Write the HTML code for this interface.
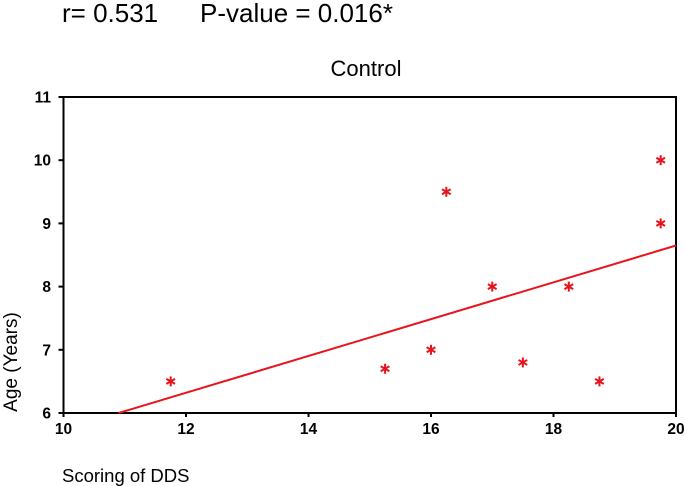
<!DOCTYPE html>
<html><head><meta charset="utf-8"><style>
html,body{margin:0;padding:0;background:#fff;}
svg{display:block;font-family:"Liberation Sans",Arial,sans-serif;}
</style></head><body>
<svg id="chart" width="685" height="486">
<text x="62" y="22" font-size="26">r= 0.531</text>
<text x="200" y="22" font-size="26">P-value = 0.016*</text>
<text x="366" y="76" font-size="22" text-anchor="middle">Control</text>
<text x="62" y="482" font-size="18.5">Scoring of DDS</text>
<text transform="translate(17,362) rotate(-90)" font-size="19" text-anchor="middle">Age (Years)</text>
<g id="axes"></g><g id="marks"></g>
</svg>
<script>
const xTicks=[10,12,14,16,18,20];
const yTicks=[6,7,8,9,10,11];
const xVals=[11.75,15.25,16,16.25,17,17.5,18.25,18.75,19.75,19.75];
const yVals=[6.5,6.7,7,9.5,8,6.8,8,6.5,10,9];
const fitX=[10.9,20];
const fitY=[6,8.65];
const L=63.5,R=676,T=97,B=413;
function sx(v){return L+(v-10)/10*(R-L);}
function sy(v){return B-(v-6)/5*(B-T);}
const NS="http://www.w3.org/2000/svg";
const axes=document.getElementById('axes'),marks=document.getElementById('marks');
function mk(p,tag,attrs){const e=document.createElementNS(NS,tag);for(const k in attrs)e.setAttribute(k,attrs[k]);p.appendChild(e);return e;}
const box=mk(axes,'rect',{x:L,y:T,width:R-L,height:B-T,fill:'none',stroke:'#000','stroke-width':2});


xTicks.forEach(t=>{
  const l=mk(axes,'line',{x1:sx(t),x2:sx(t),y1:B,y2:B+4,stroke:'#000','stroke-width':2});
  
  
  const tx=mk(axes,'text',{x:sx(t),y:434,'font-size':15.5,'font-weight':'bold','text-anchor':'middle'});
  tx.textContent=t;
  
  
});
yTicks.forEach(t=>{
  const l=mk(axes,'line',{x1:L-5,x2:L,y1:sy(t),y2:sy(t),stroke:'#000','stroke-width':2});
  
  
  const tx=mk(axes,'text',{x:51,y:sy(t)+5.5,'font-size':15.5,'font-weight':'bold','text-anchor':'end'});
  tx.textContent=t;
  
  
});
const fit=mk(marks,'line',{x1:sx(fitX[0]),y1:sy(fitY[0]),x2:sx(fitX[1]),y2:sy(fitY[1]),stroke:'#e8141c','stroke-width':2});


xVals.forEach((xv,i)=>{
  const cx=sx(xv),cy=sy(yVals[i]),r=5;
  const g=mk(marks,'g',{stroke:'#e8141c','stroke-width':2});
  
  
  mk(g,'line',{x1:cx,y1:cy-r,x2:cx,y2:cy+r});
  mk(g,'line',{x1:cx-r*0.87,y1:cy-r*0.5,x2:cx+r*0.87,y2:cy+r*0.5});
  mk(g,'line',{x1:cx-r*0.87,y1:cy+r*0.5,x2:cx+r*0.87,y2:cy-r*0.5});
});
</script>
</body></html>
